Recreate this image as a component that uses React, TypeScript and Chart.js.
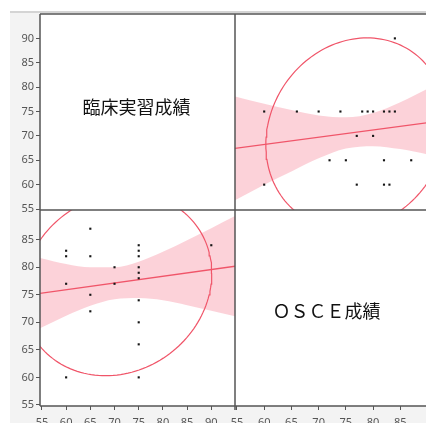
import React, { useEffect, useRef } from "react";
import { Chart, registerables } from "chart.js";

Chart.register(...registerables);

// Variable names (diagonal labels)
const clinLabel = "臨床実習成績";
const osceLabel = "ＯＳＣＥ成績";

// Paired observations (臨床実習成績, OSCE成績)
const clinical = [60, 60, 60, 60, 65, 65, 65, 65, 70, 70, 75, 75, 75, 75, 75, 75, 75, 75, 75, 75, 90];
const osce = [83, 82, 77, 60, 87, 82, 75, 72, 80, 77, 84, 83, 82, 80, 79, 78, 74, 70, 66, 60, 84];

// Axis ranges
const clinRange = [54.6, 94.9];
const osceRange = [54.64, 90.45];
const clinRangeY = [54.8, 95.0];
const osceRangeY = [54.8, 90.4];

// Bottom-left panel: OSCE (y) on clinical (x) fit line and confidence band
const blLineX = [54, 95];
const blLineY = [75.2, 80.2];
const blBandX = [54.6, 60, 65, 70, 75, 80, 85, 90, 94.9];
const blBandUpper = [81.7, 80.6, 80.0, 80.0, 81.0, 82.8, 84.9, 87.1, 89.3];
const blBandLower = [68.9, 71.2, 73.0, 74.2, 74.4, 74.0, 73.1, 72.1, 71.1];

// Top-right panel: clinical (y) on OSCE (x) fit line and confidence band
const trLineX = [54, 91];
const trLineY = [67.35, 72.85];
const trBandX = [54.64, 60, 65, 70, 75, 80, 85, 90.45];
const trBandUpper = [78.1, 76.6, 75.3, 74.2, 73.8, 74.7, 76.9, 79.9];
const trBandLower = [56.8, 60.0, 62.7, 65.4, 67.4, 67.9, 67.3, 66.1];

// Density ellipse (clinical, OSCE)
const ellipseCenter = [70.5, 76.9];
const ellipseRadius = [19.6, 16.6];
const ellipseRho = 0.12;

const RED = "rgb(240, 85, 105)";
const BAND = "rgba(250, 180, 192, 0.6)";
const AXIS = "#555";

function pairs(xs: number[], ys: number[]) {
  return xs.map((x, i) => ({ x, y: ys[i] }));
}

function ellipsePoints(swap: boolean) {
  const out: { x: number; y: number }[] = [];
  const n = 160;
  const s = Math.sqrt(1 - ellipseRho * ellipseRho);
  for (let i = 0; i <= n; i++) {
    const t = (i / n) * Math.PI * 2;
    const c = ellipseCenter[0] + ellipseRadius[0] * Math.cos(t);
    const o = ellipseCenter[1] + ellipseRadius[1] * (ellipseRho * Math.cos(t) + s * Math.sin(t));
    out.push(swap ? { x: o, y: c } : { x: c, y: o });
  }
  return out;
}

const tickFont = { family: '"Noto Sans", "DejaVu Sans", sans-serif', size: 11 };

function makeAxis(position: string, weight: number, range: number[], isY: boolean, maxLabel: number) {
  return {
    type: "linear",
    position,
    stack: isY ? "rows" : "cols",
    stackWeight: 1,
    weight,
    min: range[0],
    max: range[1],
    ticks: {
      stepSize: 5,
      includeBounds: false,
      autoSkip: false,
      maxRotation: 0,
      color: "#555",
      font: tickFont,
      padding: isY ? 2 : 6,
    },
    afterBuildTicks: (s: any) => {
      s.ticks = s.ticks.filter((t: any) => t.value <= maxLabel);
    },
    grid: {
      drawOnChartArea: false,
      drawTicks: true,
      tickLength: 4,
      tickColor: AXIS,
      tickWidth: 1,
    },
    border: { display: false },
    afterFit: (s: any) => {
      if (isY) s.width = 30;
      else s.height = 17;
      s.paddingLeft = 0;
      s.paddingRight = 0;
      s.paddingTop = 0;
      s.paddingBottom = 0;
    },
  };
}

const panelClip = {
  id: "panelClip",
  beforeDatasetDraw(chart: any, args: any) {
    const meta = args.meta;
    const xs = chart.scales[meta.xAxisID];
    const ys = chart.scales[meta.yAxisID];
    const ctx = chart.ctx;
    ctx.save();
    ctx.beginPath();
    ctx.rect(xs.left, ys.top, xs.right - xs.left, ys.bottom - ys.top);
    ctx.clip();
  },
  afterDatasetDraw(chart: any) {
    chart.ctx.restore();
  },
};

const frame = {
  id: "frame",
  beforeDraw(chart: any) {
    const { ctx, chartArea: a, width, height } = chart;
    ctx.save();
    ctx.fillStyle = "#f3f3f3";
    ctx.fillRect(10, 11, width - 10, height - 11);
    ctx.fillStyle = "#d4d4d4";
    ctx.fillRect(10, 11, width - 10, 2);
    ctx.fillStyle = "#ffffff";
    ctx.fillRect(a.left, a.top, a.right - a.left, a.bottom - a.top);
    ctx.restore();
  },
  afterDraw(chart: any) {
    const { ctx, chartArea: a } = chart;
    const xL = chart.scales.xL;
    const yT = chart.scales.yT;
    const yB = chart.scales.yB;
    const xR = chart.scales.xR;
    ctx.save();
    ctx.strokeStyle = AXIS;
    ctx.lineWidth = 1.5;
    ctx.beginPath();
    ctx.moveTo(a.left, a.top);
    ctx.lineTo(a.right, a.top);
    ctx.moveTo(a.left, a.top);
    ctx.lineTo(a.left, a.bottom);
    ctx.moveTo(a.left, a.bottom);
    ctx.lineTo(a.right, a.bottom);
    ctx.moveTo(a.right, a.top);
    ctx.lineTo(a.right, a.bottom);
    ctx.moveTo(xL.right, a.top);
    ctx.lineTo(xL.right, a.bottom + 4);
    ctx.moveTo(a.left, yT.bottom);
    ctx.lineTo(a.right, yT.bottom);
    ctx.stroke();

    ctx.fillStyle = "#111";
    ctx.font = '18px "Noto Sans CJK JP", sans-serif';
    ctx.textAlign = "center";
    ctx.textBaseline = "middle";
    ctx.fillText(clinLabel, (xL.left + xL.right) / 2 - 1, (yT.top + yT.bottom) / 2 - 5);
    ctx.fillText(osceLabel, (xR.left + xR.right) / 2 - 6, (yB.top + yB.bottom) / 2 + 3);
    ctx.restore();
  },
};

export default function App() {
  const ref = useRef<HTMLCanvasElement>(null);
  useEffect(() => {
    const canvas = ref.current;
    if (!canvas) return;
    const pointStyle = {
      showLine: false,
      pointStyle: "rect",
      pointRadius: 1.5,
      pointBackgroundColor: "#151515",
      pointBorderWidth: 0,
      borderWidth: 0,
    };
    const lineStyle = {
      showLine: true,
      pointRadius: 0,
      borderColor: RED,
      borderWidth: 1.3,
      tension: 0,
      fill: false,
    };
    const bandStyle = {
      showLine: true,
      pointRadius: 0,
      borderWidth: 0,
      borderColor: "rgba(0,0,0,0)",
      backgroundColor: BAND,
      cubicInterpolationMode: "monotone",
    };
    const chart = new Chart(canvas, {
      type: "line",
      data: {
        datasets: [
          { label: "BL points", data: pairs(clinical, osce), xAxisID: "xL", yAxisID: "yB", ...pointStyle },
          { label: "TR points", data: pairs(osce, clinical), xAxisID: "xR", yAxisID: "yT", ...pointStyle },
          { label: "BL fit", data: pairs(blLineX, blLineY), xAxisID: "xL", yAxisID: "yB", ...lineStyle },
          { label: "TR fit", data: pairs(trLineX, trLineY), xAxisID: "xR", yAxisID: "yT", ...lineStyle },
          { label: "BL ellipse", data: ellipsePoints(false), xAxisID: "xL", yAxisID: "yB", ...lineStyle, borderWidth: 1.2 },
          { label: "TR ellipse", data: ellipsePoints(true), xAxisID: "xR", yAxisID: "yT", ...lineStyle, borderWidth: 1.2 },
          { label: "BL upper", data: pairs(blBandX, blBandUpper), xAxisID: "xL", yAxisID: "yB", ...bandStyle, fill: "+1" },
          { label: "BL lower", data: pairs(blBandX, blBandLower), xAxisID: "xL", yAxisID: "yB", ...bandStyle, fill: false },
          { label: "TR upper", data: pairs(trBandX, trBandUpper), xAxisID: "xR", yAxisID: "yT", ...bandStyle, fill: "+1" },
          { label: "TR lower", data: pairs(trBandX, trBandLower), xAxisID: "xR", yAxisID: "yT", ...bandStyle, fill: false },
        ],
      } as any,
      options: {
        responsive: false,
        animation: false,
        devicePixelRatio: 1,
        parsing: true,
        layout: { padding: { left: 10, top: 14, right: 0, bottom: 0 } },
        plugins: { legend: { display: false }, tooltip: { enabled: false } },
        events: [],
        scales: {
          xL: makeAxis("bottom", 1, clinRange, false, 90),
          xR: makeAxis("bottom", 2, osceRange, false, 85),
          yT: makeAxis("left", 2, clinRangeY, true, 90),
          yB: makeAxis("left", 1, osceRangeY, true, 85),
        } as any,
      } as any,
      plugins: [panelClip, frame],
    } as any);
    return () => chart.destroy();
  }, []);
  return (
    <div
      style={{
        position: "absolute",
        left: 0,
        top: 0,
        width: 426,
        height: 423,
        overflow: "hidden",
        background: "#fff",
      }}
    >
      <canvas ref={ref} width={434} height={423} style={{ display: "block", width: 434, height: 423 }} />
    </div>
  );
}
